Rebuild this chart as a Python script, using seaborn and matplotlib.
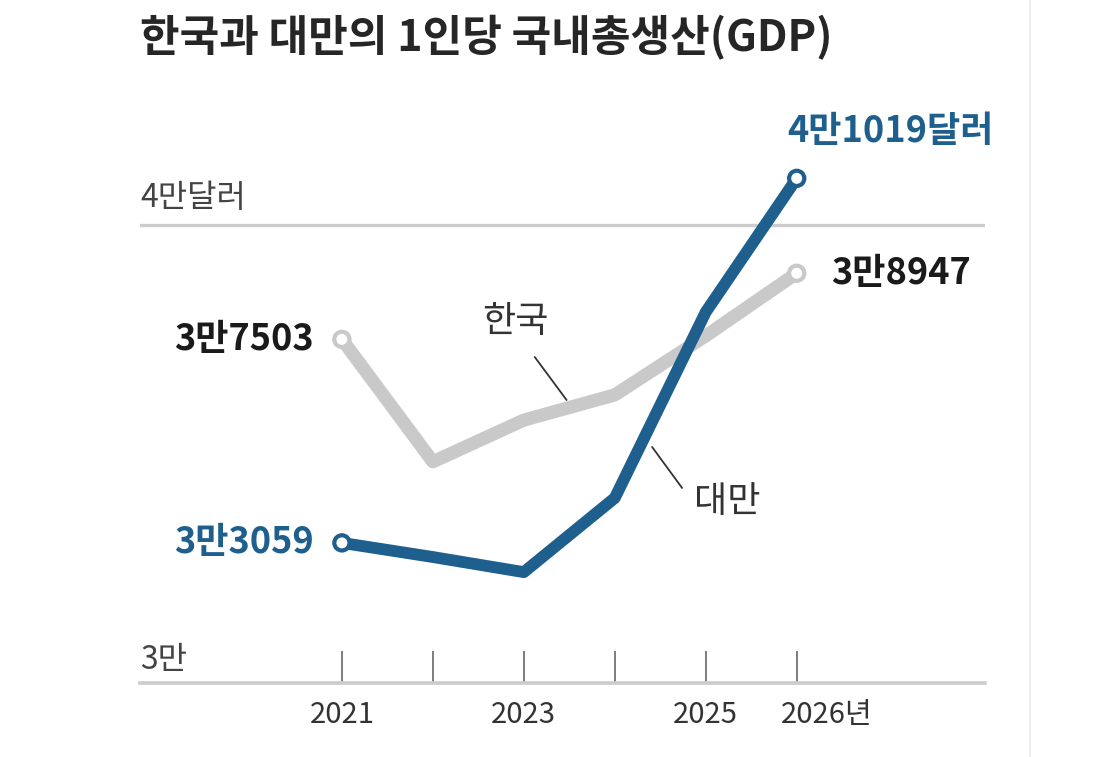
import matplotlib
matplotlib.use("Agg")
import matplotlib.pyplot as plt
import matplotlib.transforms as mtransforms
import seaborn as sns
import pandas as pd

# per-capita GDP (USD)
years = [2021, 2022, 2023, 2024, 2025, 2026]
korea = [37503, 34830, 35740, 36290, 37580, 38947]
taiwan = [33059, 32750, 32420, 34040, 38100, 41019]
year_labels = ["2021", "", "2023", "", "2025", "2026년"]
korea_end_labels = ["3만7503", "3만8947"]
taiwan_end_labels = ["3만3059", "4만1019달러"]

GRAY = "#c9c9c9"
BLUE = "#1e5f8e"

sns.set_theme(style="white")
plt.rcParams['font.family'] = ['Noto Sans CJK KR', 'DejaVu Sans']

df = pd.DataFrame({
    "year": years * 2,
    "gdp": korea + taiwan,
    "country": ["한국"] * len(years) + ["대만"] * len(years),
})

fig = plt.figure(figsize=(11.1, 7.57), dpi=100)
ax = fig.add_axes([0.1261, 0.0978, 0.7613, 0.7701])

sns.lineplot(data=df, x="year", y="gdp", hue="country", hue_order=["한국", "대만"],
             palette={"한국": GRAY, "대만": BLUE}, linewidth=9.5, legend=False, ax=ax)
for ln in ax.lines:
    ln.set_solid_joinstyle("round")
    ln.set_solid_capstyle("round")
ax.lines[0].set_zorder(2)
ax.lines[1].set_zorder(3)
ax.lines[1].set_linewidth(8.5)

# hollow end markers
ends = df[df["year"].isin([years[0], years[-1]])]
sns.scatterplot(data=ends, x="year", y="gdp", hue="country", hue_order=["한국", "대만"],
                palette={"한국": GRAY, "대만": BLUE}, legend=False, ax=ax, zorder=4,
                s=120, facecolor="white", linewidth=3)
for coll in ax.collections:
    coll.set_edgecolor([GRAY, GRAY, BLUE, BLUE] if len(coll.get_offsets()) == 4 else coll.get_edgecolor())
    coll.set_facecolor("white")

ax.set_xlim(2018.78, 2028.07)
ax.set_ylim(30000, 42730)
ax.axhline(40000, color="#cccccc", lw=2.4, zorder=1)

sns.despine(ax=ax, left=True, top=True, right=True)
ax.spines["bottom"].set_color("#cccccc")
ax.spines["bottom"].set_linewidth(2.6)

ax.set_xticks(years)
ax.set_xticklabels(year_labels, fontsize=21, color="#333333")
ax.tick_params(axis="x", direction="in", length=23, width=1.2, color="#666666", pad=12, bottom=True)
# last label ("2026년") sits a bit to the right of its tick
last = ax.get_xticklabels()[-1]
last.set_horizontalalignment("left")
last.set_transform(last.get_transform() + mtransforms.ScaledTranslation(-0.16, 0, fig.dpi_scale_trans))
ax.set_yticks([])
ax.set_xlabel("")
ax.set_ylabel("")

# y reference labels
ax.annotate("4만달러", xy=(0, 40000), xycoords=("axes fraction", "data"), xytext=(0, 8),
            textcoords="offset points", ha="left", va="bottom", fontsize=23, color="#444444")
ax.annotate("3만", xy=(0, 30000), xycoords=("axes fraction", "data"), xytext=(0, 5),
            textcoords="offset points", ha="left", va="bottom", fontsize=23, color="#444444")

# end value labels
ax.annotate(korea_end_labels[0], xy=(years[0], korea[0]), xytext=(-20, 0), textcoords="offset points",
            ha="right", va="center", fontsize=26, fontweight="bold", color="#1a1a1a")
ax.annotate(korea_end_labels[1], xy=(years[-1], korea[-1]), xytext=(25, 0), textcoords="offset points",
            ha="left", va="center", fontsize=26, fontweight="bold", color="#1a1a1a")
ax.annotate(taiwan_end_labels[0], xy=(years[0], taiwan[0]), xytext=(-20, 0), textcoords="offset points",
            ha="right", va="center", fontsize=26, fontweight="bold", color=BLUE)
ax.annotate(taiwan_end_labels[1], xy=(years[-1], taiwan[-1]), xytext=(-7, 34), textcoords="offset points",
            ha="left", va="center", fontsize=26, fontweight="bold", color=BLUE)

# series name labels with leader lines
ax.text(2022.91, 37882, "한국", ha="center", va="center", fontsize=26, color="#333333")
ax.annotate("", xy=(2023.47, 36179), xytext=(2023.12, 37118),
            arrowprops=dict(arrowstyle="-", color="#333333", lw=1.3, shrinkA=0, shrinkB=0), zorder=5)
ax.text(2025.24, 33952, "대만", ha="center", va="center", fontsize=26, color="#333333")
ax.annotate("", xy=(2024.74, 34258), xytext=(2024.41, 35153),
            arrowprops=dict(arrowstyle="-", color="#333333", lw=1.3, shrinkA=0, shrinkB=0), zorder=5)

fig.text(140 / 1110, 1 - 38 / 757, "한국과 대만의 1인당 국내총생산(GDP)", ha="left", va="center",
         fontsize=31, fontweight="bold", color="#262626")

# faint right border of the original graphic
fig.add_artist(plt.Line2D([1030 / 1110, 1030 / 1110], [0, 1], color="#ededed", lw=1.5))

fig.savefig("out.png", dpi=100)
